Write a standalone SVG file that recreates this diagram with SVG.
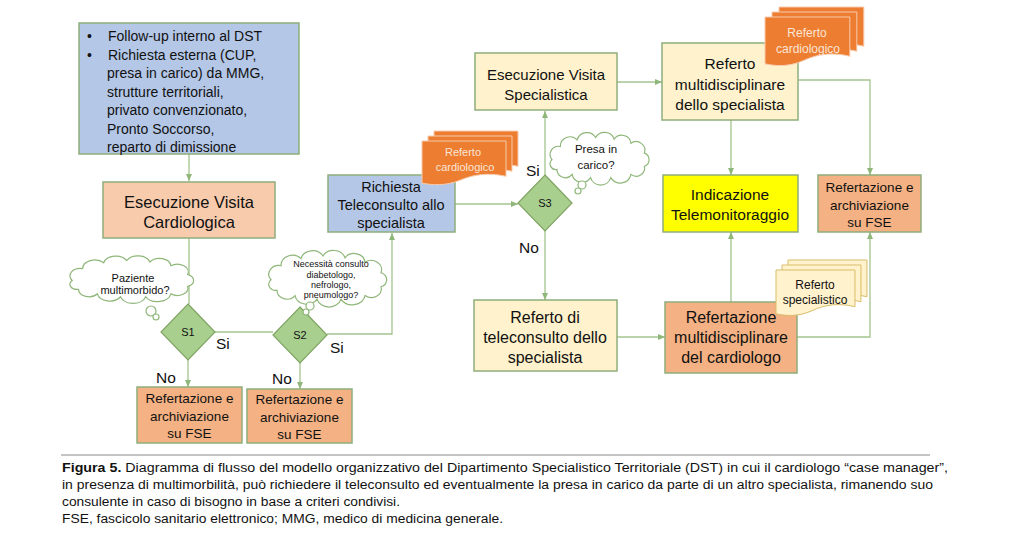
<svg xmlns="http://www.w3.org/2000/svg" xmlns:xlink="http://www.w3.org/1999/xlink" width="1019" height="543" viewBox="0 0 1019 543">
<style>
text{font-family:"Liberation Sans",Arial,sans-serif;fill:#111}
.box{stroke:#8fae7b;stroke-width:1.5}
.blue{fill:#b4c7e7}
.lor{fill:#f8cbad}
.dor{fill:#f4b183}
.ly{fill:#fff2cc}
.yel{fill:#ffff00}
.dia{fill:#a9cf8f;stroke:#7fa462;stroke-width:1.2}
.con{fill:none;stroke:#a3c48e;stroke-width:1.3}
.cloud{fill:#fff;stroke:#8fb77a;stroke-width:1.2}
.docO{fill:#ed7d31;stroke:#f8cbad;stroke-width:1}
.docY{fill:#fff2cc;stroke:#d9bd68;stroke-width:1}
.c{text-anchor:middle}
.lbl{font-size:15.5px}
.dl{font-size:11px;text-anchor:middle}
.wt{fill:#fbe5d6}
</style>
<defs>
<marker id="arr" markerWidth="8" markerHeight="8" refX="7" refY="4" orient="auto" markerUnits="userSpaceOnUse"><path d="M0,1 L7,4 L0,7 Z" fill="#8fb77a"/></marker>
<path id="doc" d="M0,0 H84 V36 C66,32 52,34 38,40 C24,46 10,45 0,43 Z" vector-effect="non-scaling-stroke"/>
<path id="cl" vector-effect="non-scaling-stroke" d="M-56,2 A10,10 0 0 1 -46,-14 A11.5,11.5 0 0 1 -26,-22 A12,12 0 0 1 -4,-25 A12,12 0 0 1 18,-23 A11,11 0 0 1 38,-18 A10.5,10.5 0 0 1 54,-6 A8.5,8.5 0 0 1 54,10 A10,10 0 0 1 38,20 A13,13 0 0 1 14,24 A12.5,12.5 0 0 1 -10,24 A12,12 0 0 1 -32,20 A10,10 0 0 1 -50,14 A7,7 0 0 1 -56,2 Z"/>
</defs>
<rect width="1019" height="543" fill="#fff"/>

<g id="connectors">
<line class="con" x1="189" y1="154" x2="189" y2="181" marker-end="url(#arr)"/>
<line class="con" x1="189" y1="238" x2="189" y2="304"/>
<line class="con" x1="215" y1="332" x2="273" y2="332"/>
<polyline class="con" points="327,334 392,334 392,233" marker-end="url(#arr)"/>
<line class="con" x1="188" y1="360" x2="188" y2="387" marker-end="url(#arr)"/>
<line class="con" x1="300" y1="363" x2="300" y2="389" marker-end="url(#arr)"/>
<line class="con" x1="455" y1="204" x2="518" y2="204" marker-end="url(#arr)"/>
<line class="con" x1="545" y1="175" x2="545" y2="111" marker-end="url(#arr)"/>
<line class="con" x1="545" y1="231" x2="545" y2="300" marker-end="url(#arr)"/>
<line class="con" x1="617" y1="82" x2="662" y2="82" marker-end="url(#arr)"/>
<polyline class="con" points="798,80 870,80 870,175" marker-end="url(#arr)"/>
<line class="con" x1="731" y1="120" x2="731" y2="175" marker-end="url(#arr)"/>
<line class="con" x1="731" y1="302" x2="731" y2="232" marker-end="url(#arr)"/>
<polyline class="con" points="797,337 870,337 870,232" marker-end="url(#arr)"/>
<line class="con" x1="617" y1="337" x2="665" y2="337" marker-end="url(#arr)"/>
</g>

<g id="origine">
<rect class="box blue" x="79" y="23" width="220" height="131"/>
<g font-size="14px">
<text x="87" y="41">•</text><text x="108" y="41">Follow-up interno al DST</text>
<text x="87" y="59.6">•</text><text x="108" y="59.6">Richiesta esterna (CUP,</text>
<text x="107" y="78.2">presa in carico) da MMG,</text>
<text x="107" y="96.8">strutture territoriali,</text>
<text x="107" y="115.4">privato convenzionato,</text>
<text x="107" y="134">Pronto Soccorso,</text>
<text x="107" y="152">reparto di dimissione</text>
</g>
</g>

<g id="visita-cardiologica">
<rect class="box lor" x="103" y="182" width="172" height="56"/>
<text class="c" x="189" y="208" font-size="16.5px">Esecuzione Visita</text>
<text class="c" x="189" y="228" font-size="16.5px">Cardiologica</text>
</g>

<g id="cloud-s1">
<use href="#cl" class="cloud" transform="translate(131,279) scale(1.05,0.74)"/>
<circle class="cloud" cx="151" cy="311" r="5"/>
<circle class="cloud" cx="156" cy="317" r="3"/>
<text class="c" x="133" y="282" font-size="11px">Paziente</text>
<text class="c" x="135" y="294" font-size="11px">multimorbido?</text>
</g>

<g id="s1">
<polygon class="dia" points="188,304 215,332 188,360 161,332"/>
<text class="dl" x="188" y="336">S1</text>
</g>

<g id="s2">
<polygon class="dia" points="300,307 327,335 300,363 273,335"/>
<text class="dl" x="300" y="339">S2</text>
</g>

<g id="cloud-s2">
<use href="#cl" class="cloud" transform="translate(327,278) scale(1.0,0.88)"/>
<circle class="cloud" cx="310" cy="306" r="4"/>
<circle class="cloud" cx="306" cy="312" r="3"/>
<g font-size="9px">
<text class="c" x="331" y="267">Necessità consulto</text>
<text class="c" x="331" y="277.5">diabetologo,</text>
<text class="c" x="331" y="288">nefrologo,</text>
<text class="c" x="331" y="298">pneumologo?</text>
</g>
</g>

<g id="labels-s12">
<text class="lbl" x="216" y="349">Si</text>
<text class="lbl" x="330" y="353">Si</text>
<text class="lbl" x="156" y="383">No</text>
<text class="lbl" x="272" y="384">No</text>
</g>

<g id="fse-1">
<rect class="box dor" x="137" y="387" width="105" height="56"/>
<g font-size="13.5px">
<text class="c" x="189.5" y="403">Refertazione e</text>
<text class="c" x="189.5" y="421">archiviazione</text>
<text class="c" x="189.5" y="438">su FSE</text>
</g>
</g>

<g id="fse-2">
<rect class="box dor" x="247" y="389" width="105" height="54"/>
<g font-size="13.5px">
<text class="c" x="299.5" y="404">Refertazione e</text>
<text class="c" x="299.5" y="422">archiviazione</text>
<text class="c" x="299.5" y="439">su FSE</text>
</g>
</g>

<g id="richiesta-teleconsulto">
<rect class="box blue" x="328" y="175" width="127" height="57"/>
<text class="c" x="391" y="192" font-size="14.5px">Richiesta</text>
<text class="c" x="391" y="210" font-size="14.5px">Teleconsulto allo</text>
<text class="c" x="391" y="228" font-size="14.5px">specialista</text>
</g>

<g id="doc-referto-cardiologico-1">
<use href="#doc" class="docO" transform="translate(434,131) scale(1,0.98)"/>
<use href="#doc" class="docO" transform="translate(428,136) scale(1,0.98)"/>
<use href="#doc" class="docO" transform="translate(422,141) scale(1,0.98)"/>
<text class="c wt" x="463" y="156" font-size="11px">Referto</text>
<text class="c wt" x="465" y="171" font-size="11px">cardiologico</text>
</g>

<g id="s3">
<polygon class="dia" points="545,175 572,203 545,231 518,203"/>
<text class="dl" x="545" y="207">S3</text>
</g>

<g id="cloud-s3">
<use href="#cl" class="cloud" transform="translate(599,158) scale(0.84,0.82)"/>
<circle class="cloud" cx="582" cy="185" r="4"/>
<circle class="cloud" cx="578" cy="191" r="3"/>
<text class="c" x="596" y="153" font-size="11.5px">Presa in</text>
<text class="c" x="596" y="169" font-size="11.5px">carico?</text>
</g>

<g id="labels-s3">
<text class="lbl" x="526" y="176">Si</text>
<text class="lbl" x="519" y="253">No</text>
</g>

<g id="visita-specialistica">
<rect class="box ly" x="475" y="53" width="142" height="57"/>
<text class="c" x="546" y="80" font-size="15px">Esecuzione Visita</text>
<text class="c" x="546" y="100" font-size="15px">Specialistica</text>
</g>

<g id="referto-multi-specialista">
<rect class="box ly" x="662" y="43" width="136" height="77"/>
<text class="c" x="730" y="68.5" font-size="15.5px">Referto</text>
<text class="c" x="730" y="90" font-size="15.5px">multidisciplinare</text>
<text class="c" x="730" y="110" font-size="15.5px">dello specialista</text>
</g>

<g id="doc-referto-cardiologico-2">
<use href="#doc" class="docO" transform="translate(779,7) scale(1.01,1.09)"/>
<use href="#doc" class="docO" transform="translate(772,12) scale(1.01,1.09)"/>
<use href="#doc" class="docO" transform="translate(765,17) scale(1.01,1.09)"/>
<text class="c wt" x="807" y="37" font-size="12px">Referto</text>
<text class="c wt" x="808" y="53" font-size="12px">cardiologico</text>
</g>

<g id="telemonitoraggio">
<rect class="box yel" x="663" y="175" width="135" height="57"/>
<text class="c" x="730" y="200" font-size="15.5px">Indicazione</text>
<text class="c" x="730" y="220" font-size="15.5px">Telemonitoraggio</text>
</g>

<g id="fse-3">
<rect class="box dor" x="818" y="175" width="103" height="57"/>
<g font-size="13.5px">
<text class="c" x="869.5" y="192">Refertazione e</text>
<text class="c" x="869.5" y="210">archiviazione</text>
<text class="c" x="869.5" y="227">su FSE</text>
</g>
</g>

<g id="referto-teleconsulto">
<rect class="box ly" x="474" y="300" width="143" height="71"/>
<text class="c" x="545" y="323" font-size="16px">Referto di</text>
<text class="c" x="545" y="343" font-size="16px">teleconsulto dello</text>
<text class="c" x="545" y="363" font-size="16px">specialista</text>
</g>

<g id="refertazione-cardiologo">
<rect class="box dor" x="665" y="302" width="132" height="71"/>
<text class="c" x="731" y="323" font-size="16px">Refertazione</text>
<text class="c" x="731" y="343" font-size="16px">multidisciplinare</text>
<text class="c" x="731" y="363" font-size="16px">del cardiologo</text>
</g>

<g id="doc-referto-specialistico">
<use href="#doc" class="docY" transform="translate(788,260) scale(0.94,1.02)"/>
<use href="#doc" class="docY" transform="translate(782,265) scale(0.94,1.02)"/>
<use href="#doc" class="docY" transform="translate(776,270) scale(0.94,1.02)"/>
<text class="c" x="815" y="289" font-size="12px">Referto</text>
<text class="c" x="815" y="304" font-size="12px">specialistico</text>
</g>

<g id="caption">
<line x1="61" y1="455" x2="930" y2="455" stroke="#8a8a8a" stroke-width="1"/>
<g font-size="12.5px">
<text x="62" y="472" textLength="886" lengthAdjust="spacingAndGlyphs"><tspan font-weight="bold">Figura 5.</tspan> Diagramma di flusso del modello organizzativo del Dipartimento Specialistico Territoriale (DST) in cui il cardiologo “case manager”,</text>
<text x="62" y="489" textLength="871" lengthAdjust="spacingAndGlyphs">in presenza di multimorbilità, può richiedere il teleconsulto ed eventualmente la presa in carico da parte di un altro specialista, rimanendo suo</text>
<text x="62" y="506" textLength="338" lengthAdjust="spacingAndGlyphs">consulente in caso di bisogno in base a criteri condivisi.</text>
<text x="62" y="523" textLength="441" lengthAdjust="spacingAndGlyphs">FSE, fascicolo sanitario elettronico; MMG, medico di medicina generale.</text>
</g>
</g>
</svg>
